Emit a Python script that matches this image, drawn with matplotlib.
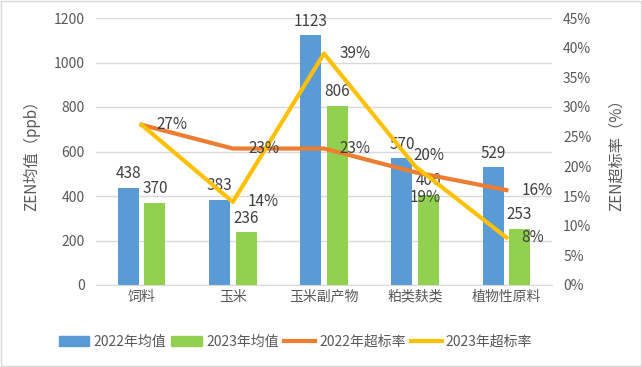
import matplotlib
matplotlib.use("Agg")
import matplotlib.pyplot as plt
from matplotlib.patches import Patch
from matplotlib.lines import Line2D
import numpy as np

plt.rcParams['font.family'] = ['Noto Sans CJK SC', 'DejaVu Sans']

categories = ['饲料', '玉米', '玉米副产物', '粕类麸类', '植物性原料']
mean_2022 = [438, 383, 1123, 570, 529]
mean_2023 = [370, 236, 806, 406, 253]
rate_2022 = [27, 23, 23, 19, 16]
rate_2023 = [27, 14, 39, 20, 8]
series_names = ['2022年均值', '2023年均值', '2022年超标率', '2023年超标率']

c_blue = '#5B9BD5'
c_green = '#92D050'
c_orange = '#ED7D31'
c_yellow = '#FFC000'
c_text = '#595959'
c_grid = '#D9D9D9'

fig = plt.figure(figsize=(6.42, 3.67), dpi=100)
ax = fig.add_axes([96/642, 1-285/367, (552-96)/642, (285-18)/367])
ax2 = ax.twinx()

x = np.arange(len(categories))
w = 0.23
gap = 0.03
b1 = ax.bar(x - w/2 - gap, mean_2022, w, color=c_blue, zorder=2)
b2 = ax.bar(x + w/2 + gap, mean_2023, w, color=c_green, zorder=2)

ax.set_ylim(0, 1200)
ax.set_yticks(range(0, 1201, 200))
ax.set_xlim(-0.5, len(categories) - 0.5)
ax.set_xticks(x)
ax.set_xticklabels(categories)
ax.grid(axis='y', color=c_grid, linewidth=1, zorder=0)
ax.set_axisbelow(True)
for s in ['top', 'right', 'left']:
    ax.spines[s].set_visible(False)
ax.spines['bottom'].set_color(c_grid)
ax.tick_params(axis='both', length=0, colors=c_text, labelsize=10)
ax.tick_params(axis='y', pad=8)
ax.set_ylabel('ZEN均值（ppb）', color=c_text, fontsize=11, labelpad=10)

for rect, v in zip(b1, mean_2022):
    ax.annotate(str(v), (rect.get_x() + rect.get_width()/2, v), xytext=(0, 4),
                textcoords='offset points', ha='center', va='bottom', fontsize=11, color='#404040')
for rect, v in zip(b2, mean_2023):
    ax.annotate(str(v), (rect.get_x() + rect.get_width()/2, v), xytext=(0, 4),
                textcoords='offset points', ha='center', va='bottom', fontsize=11, color='#404040')

ax2.plot(x, rate_2022, color=c_orange, linewidth=3, zorder=3)
ax2.plot(x, rate_2023, color=c_yellow, linewidth=3, zorder=4)
ax2.set_ylim(0, 45)
ax2.set_yticks(range(0, 46, 5))
ax2.set_yticklabels([f'{t}%' for t in range(0, 46, 5)])
for s in ['top', 'right', 'left', 'bottom']:
    ax2.spines[s].set_visible(False)
ax2.tick_params(axis='y', length=0, colors=c_text, labelsize=10, pad=8)
ax2.set_ylabel('ZEN超标率（%）', color=c_text, fontsize=11, labelpad=12)

off_2022 = [(11, 0), (11, 0), (11, 0), (-4, -18), (11, 0)]
off_2023 = [(11, 0), (11, 0), (11, 0), (-1, 8), (11, 0)]
for i, v in enumerate(rate_2022):
    if i == 0:
        continue
    ax2.annotate(f'{v}%', (x[i], v), xytext=off_2022[i], textcoords='offset points',
                 ha='left', va='center', fontsize=11, color='#404040', zorder=5)
for i, v in enumerate(rate_2023):
    ax2.annotate(f'{v}%', (x[i], v), xytext=off_2023[i], textcoords='offset points',
                 ha='left', va='center', fontsize=11, color='#404040', zorder=5)

handles = [Patch(color=c_blue), Patch(color=c_green),
           Line2D([0], [0], color=c_orange, linewidth=3),
           Line2D([0], [0], color=c_yellow, linewidth=3)]
leg = fig.legend(handles, series_names, loc='center', bbox_to_anchor=(0.46, 1-342/367),
                 ncol=4, frameon=False, fontsize=10, handlelength=2.2, handleheight=0.7,
                 columnspacing=0.4, handletextpad=0.3, labelcolor=c_text)

fig.patches.append(plt.Rectangle((0.001, 0.002), 0.997, 0.996, transform=fig.transFigure,
                                 fill=False, edgecolor='#D9D9D9', linewidth=1))

fig.savefig('out.png', dpi=100)
